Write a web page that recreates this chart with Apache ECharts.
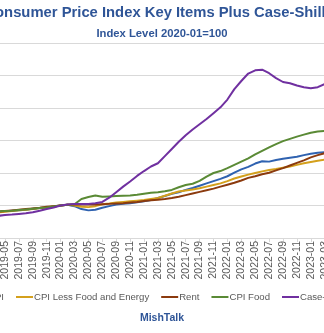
<!DOCTYPE html>
<html>
<head>
<meta charset="utf-8">
<script src="https://cdn.jsdelivr.net/npm/echarts@6/dist/echarts.min.js"></script>
<style>
html,body{margin:0;padding:0;background:#fff;}
#chart{width:324px;height:333px;}
</style>
</head>
<body>
<div id="chart"></div>
<script>
// Months 2019-04 .. 2023-03
const months = [];
for (let y = 2019, m = 4; y < 2023 || (y === 2023 && m <= 3); ) {
  months.push(y + '-' + String(m).padStart(2, '0'));
  m++; if (m > 12) { m = 1; y++; }
}

const cpi = [98.0,98.2,98.4,98.5,98.7,99.0,99.2,99.4,99.7,100.0,100.2,99.8,98.9,98.5,98.7,99.3,99.8,100.3,100.5,100.7,101.0,101.3,101.7,102.3,102.9,103.6,104.1,104.8,105.4,106.1,106.8,107.5,108.2,109.0,110.1,111.1,111.9,112.9,113.6,113.5,114.0,114.4,114.7,115.0,115.5,115.9,116.2,116.4];
const cpiCore = [97.9,98.1,98.3,98.5,98.7,98.9,99.2,99.4,99.7,100.0,100.2,100.0,99.6,99.5,99.8,100.4,100.6,100.9,101.1,101.3,101.5,101.7,102.0,102.3,103.0,103.7,104.3,104.6,104.9,105.3,105.8,106.3,106.8,107.5,108.3,108.9,109.5,110.0,110.5,110.9,111.2,111.6,112.0,112.5,113.0,113.4,113.8,114.1];
const rent = [98.1,98.3,98.5,98.7,98.9,99.1,99.3,99.6,99.8,100.0,100.2,100.3,100.3,100.3,100.3,100.4,100.5,100.6,100.7,100.9,101.1,101.4,101.6,101.8,102.0,102.3,102.7,103.2,103.7,104.2,104.7,105.2,105.8,106.4,107.0,107.7,108.5,109.0,109.6,110.1,110.8,111.5,112.3,113.1,113.9,114.8,115.5,116.1];
const cpiFood = [98.2,98.3,98.4,98.6,98.8,99.0,99.2,99.4,99.7,100.0,100.2,100.4,102.0,102.6,103.1,102.7,102.8,102.9,103.0,103.1,103.3,103.6,103.9,104.1,104.4,104.8,105.6,106.3,106.7,107.6,108.9,110.0,110.6,111.5,112.5,113.5,114.5,115.7,116.8,117.9,118.9,119.8,120.5,121.2,121.8,122.4,122.8,122.9];
const caseShiller = [96.8,97.1,97.2,97.4,97.6,97.9,98.4,98.9,99.4,100.0,100.3,100.5,100.5,100.5,100.7,101.1,102.4,104.1,105.8,107.4,109.1,110.6,112.0,113.0,115.2,117.4,119.6,121.6,123.4,125.0,126.6,128.4,130.2,132.6,135.8,138.3,140.6,141.6,141.8,140.7,139.2,138.0,137.6,136.9,136.4,136.1,136.4,137.4];

const seriesNames = ['CPI','CPI Less Food and Energy','Rent','CPI Food','Case-Shiller'];
const seriesColors = ['#2F62B0','#D4A01C','#8B3A0E','#5A8A35','#7030A0'];
const seriesData = [cpi, cpiCore, rent, cpiFood, caseShiller];

const titleText = 'Consumer Price Index Key Items Plus Case-Shiller';
const subTitleText = 'Index Level 2020-01=100';
const sourceText = 'MishTalk';

const oddMonth = (i, v) => parseInt(String(v).slice(5), 10) % 2 === 1;

const chart = echarts.init(document.getElementById('chart'), null, {renderer: 'canvas'});
chart.setOption({
  animation: false,
  backgroundColor: '#ffffff',
  textStyle: {fontFamily: 'Liberation Sans'},
  title: [
    {text: titleText, left: 'center', top: 0, padding: [5, 5, 5, 15],
     textStyle: {fontFamily: 'Liberation Sans', fontWeight: 'bold', fontSize: 14.8, color: '#2F5597'}},
    {text: subTitleText, left: 'center', top: 23,
     textStyle: {fontFamily: 'Liberation Sans', fontWeight: 'bold', fontSize: 11.25, color: '#2F5597'}},
    {text: sourceText, left: 'center', top: 308,
     textStyle: {fontFamily: 'Liberation Sans', fontWeight: 'bold', fontSize: 10.5, color: '#2F5597'}}
  ],
  legend: {
    data: seriesNames,
    left: -35, top: 287, width: 700,
    icon: 'rect',
    itemWidth: 17, itemHeight: 2, itemGap: 12,
    textStyle: {fontFamily: 'Liberation Sans', fontSize: 9.6, color: '#595959', padding: [0,0,0,-4]}
  },
  grid: {left: -1.95, right: -0.7, top: 43, bottom: 95, containLabel: false, outerBoundsMode: 'none'},
  xAxis: {
    type: 'category', data: months, boundaryGap: false,
    axisLine: {show: true, lineStyle: {color: '#d9d9d9', width: 1}},
    axisTick: {show: true, interval: oddMonth, length: 4, lineStyle: {color: '#d9d9d9'}},
    axisLabel: {interval: oddMonth, rotate: 90, margin: 3, fontSize: 10.5, color: '#595959', fontFamily: 'Liberation Sans'},
    splitLine: {show: false}
  },
  yAxis: {
    type: 'value', min: 90, max: 150, interval: 10,
    axisLabel: {show: false}, axisLine: {show: false}, axisTick: {show: false},
    splitLine: {show: true, lineStyle: {color: '#d9d9d9', width: 1}}
  },
  series: seriesNames.map((n, i) => ({
    name: n, type: 'line', data: seriesData[i], symbol: 'none', smooth: false,
    lineStyle: {color: seriesColors[i], width: 2}, itemStyle: {color: seriesColors[i]}
  }))
});
</script>
</body>
</html>
